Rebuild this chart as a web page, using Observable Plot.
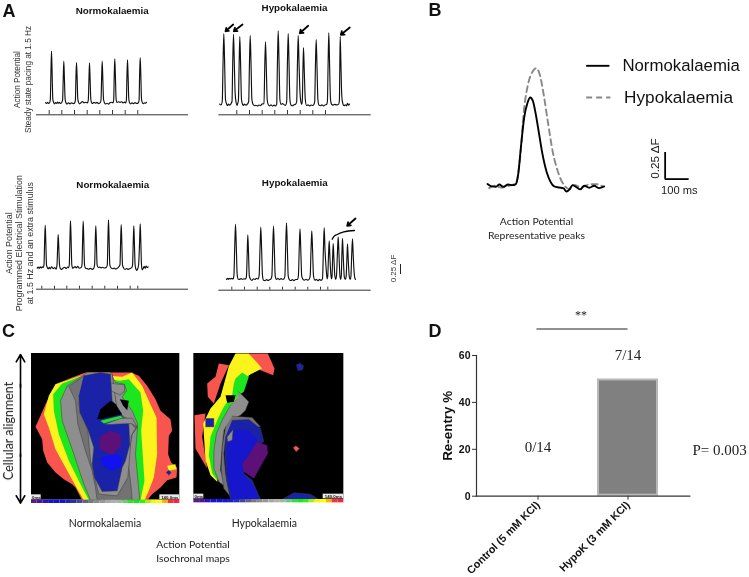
<!DOCTYPE html>
<html>
<head>
<meta charset="utf-8">
<script src="https://cdn.jsdelivr.net/npm/d3@7"></script>
<script src="https://cdn.jsdelivr.net/npm/@observablehq/plot@0.6"></script>
<style>
html,body{margin:0;padding:0;background:#fff}
#page{position:relative;width:749px;height:577px;overflow:hidden;font-family:"Liberation Sans",Arial,sans-serif}
#page svg{position:absolute;overflow:visible;background:transparent;filter:blur(.4px)}
.lab{position:absolute;white-space:nowrap;transform:translate(-50%,-50%);text-align:center;filter:blur(.3px)}
.letter{font-weight:bold;font-size:18px;color:#111}
.cal{font-family:Lato,sans-serif;font-size:10.4px;color:#222;line-height:14px}
</style>
</head>
<body>
<div id="page"></div>
<script>
// ---------- Panel A: optical action-potential traces (time, signal above baseline; arbitrary units)
const a1Trace = [[0,.3],[1,-.5],[2,.6],[3,-.3],[4,.2],[4.8,3],[5.4,29],[6,51.8],[6.6,31],[7.3,4],[8,.8],[9,-.8],[10,.4],[11,-.4],[12,1],[13,-.2],[14,.6],[15,-.5],[16,.3],[17.1,3],[17.7,23],[18.3,41.8],[18.9,25],[19.6,4],[20.3,.5],[21.5,-1],[23,.3],[24.5,-.8],[26,.2],[28,-.6],[29.3,.4],[29.9,3],[30.4,24],[31,40.5],[31.6,26],[32.3,4],[33,.8],[34,-.8],[35.5,.2],[37,1.5],[38.5,.2],[40,.8],[42,0],[42.8,3],[43.4,22],[44,40.2],[44.6,24],[45.3,4],[46,.6],[47,-.5],[48.5,.8],[50,-.2],[51.5,.7],[53,-.6],[54.8,.3],[55.5,3],[56.1,24],[56.7,41.8],[57.3,25],[58,4],[59,.2],[60,-1],[61.5,-.2],[63,-1.2],[64.5,.3],[66,.8],[67.5,.1],[68.2,3],[68.7,26],[69.3,44.2],[69.9,27],[70.6,4],[71.5,.5],[73,1.2],[74.5,.6],[76,1.3],[77.5,.2],[79,.9],[80.2,.1],[80.9,3],[81.4,25],[82,43.2],[82.6,27],[83.3,4],[84,.4],[85,-.9],[86.5,.2],[88,-.7],[89.5,.5],[91,-.5],[92.9,.3],[93.6,3],[94.1,27],[94.7,45.5],[95.3,29],[96,4],[96.8,.5],[98,-.7],[99,.3],[100,-.2],[101,.7]];
const a1Stim = [3.7,16.3,29,41.7,54.3,67,79.7,92.3];

const a2Trace = [[0,.5],[1,-.3],[2,.2],[2.8,4],[3.5,39],[4.3,70.7],[5.1,43],[6,5],[7,.8],[8,-1.2],[9,.4],[10,-.6],[11,.2],[12.5,3],[13.2,40],[14,70.3],[14.8,42],[15.6,12],[16.6,2],[17.6,-1],[18.2,1],[18.9,4],[19.6,38],[20.3,68],[21.1,40],[22,5],[23,.3],[24,-1],[25,.5],[26.5,-.7],[28,.6],[29.2,3],[29.9,38],[30.7,69],[31.5,42],[32.4,5],[33.5,.2],[35,-1.2],[36.5,-.7],[38,-1.5],[39.5,-.5],[41,-1.2],[42.5,.5],[44.5,.8],[45.2,35],[46,62.7],[46.8,37],[47.7,5],[48.5,.4],[50,-1.4],[51.5,-.4],[53,-1.6],[54.5,-.6],[56,-1.5],[57.2,.4],[57.9,40],[58.7,73.7],[59.5,44],[60.4,5],[61.5,.2],[63,.9],[64.5,-.2],[66,-.9],[67.2,3],[67.9,40],[68.7,71],[69.5,42],[70.4,5],[71.5,-.5],[73,-1.2],[74.5,-.3],[76,.2],[77.2,3],[77.9,38],[78.7,69],[79.5,42],[80.4,14],[81.3,3],[82.2,.2],[82.8,4],[83.4,33],[84,57],[84.8,33],[85.8,5],[87,-1],[88.5,-.4],[90,-1.4],[91.5,-.5],[93,-1],[94.5,.3],[95.2,3],[95.9,37],[96.7,65],[97.5,38],[98.4,5],[99.5,-.6],[101,-1.2],[102.5,-.4],[104,-1.3],[105.5,-.5],[107.2,.2],[107.9,3],[108.6,40],[109.3,71.7],[110,44],[111,5],[112,.4],[113.5,-.6],[115,.1],[117,-.4],[119.2,.4],[119.9,4],[120.3,38],[120.7,68],[121.4,42],[122.3,8],[123.3,1],[124.5,-1.2],[126,-.4],[127,-1.3],[128,1.2],[129,-.6],[130,.4]];
const a2Stim = [17.3,30,42.7,55.3,68,80.7,93.3,106];
const a2Arrows = [[6,73.3,13.7,80],[14.3,73.3,23,80],[80.3,71.3,88.7,78.7],[121.3,69.7,130.3,77]];

const a3Trace = [[0,-.3],[1,.8],[2,-.6],[3,.9],[4,-.2],[5,1],[6,.2],[6.8,3],[7.4,25],[8,42.6],[8.6,26],[9.3,3],[10,.5],[11,-1.2],[12,.6],[13,-1],[14.5,.9],[16,-.8],[17.5,.3],[19,-1.4],[19.8,3],[20.4,19],[21,33.3],[21.6,20],[22.3,3],[23,-.5],[24.5,-1.5],[26,-.2],[27.5,.6],[29,-.8],[30.5,.8],[31.5,.1],[32.1,3],[32.7,27],[33.3,47],[33.9,29],[34.6,3],[35.5,-.5],[36.5,.3],[38,1.2],[39,-.2],[40.5,1.4],[42,-.4],[44,.2],[44.8,3],[45.4,27],[46,46.6],[46.6,28],[47.3,3],[48.5,-.6],[50,-.8],[51.5,-1.4],[53,-.5],[55,-1.5],[56.5,-.5],[57.4,3],[58,24],[58.6,42],[59.2,26],[59.9,3],[61,.3],[62.5,.7],[64,0],[65.5,.6],[67,-.2],[69,.3],[70.1,3],[70.7,28],[71.3,48],[71.9,29],[72.6,3],[74,-.3],[75.5,-.9],[77,-.3],[78.5,-1.2],[80,-.4],[81,.2],[82.8,3],[83.4,25],[84,43.3],[84.6,26],[85.3,3],[86.5,-.4],[88,-1.5],[89.5,-.7],[91,-1.6],[93,-.6],[94.5,.1],[95.4,3],[96,24],[96.6,42],[97.2,25],[97.9,3],[98.6,-1],[99.6,-2.5],[100.5,-1],[101.4,3],[102.4,26],[103,44],[103.6,27],[104.3,3],[105,-2],[106,-.6],[107,1.5],[108,-.5],[109,1.8],[110,.3],[111,1]];
const a3Stim = [4.6,17.3,29.6,42.3,55,67.6,80.3,93,100.6];

const a4Trace = [[0,.3],[1,1.5],[2,.4],[3,1.6],[4,.8],[5,1.4],[6.6,1],[7.4,4],[8.2,32],[9,55.6],[9.8,33],[10.7,5],[11.8,.5],[13,.4],[14.5,1.2],[16,.6],[18,1],[19.3,.8],[20,4],[20.7,26],[21.3,45],[22,27],[22.8,4],[24,.6],[25.5,-.5],[27,1],[28.5,.3],[30,1.6],[31.5,.8],[32.6,4],[33.5,31],[34.3,52.6],[35.1,31],[36,4],[37,-.4],[38.5,-.8],[40,.2],[41.5,-.6],[43,.1],[44.5,1],[45.4,4],[46.2,31],[47,53.6],[47.8,32],[48.7,4],[50,.5],[51.5,1.4],[53,.2],[54.5,1.2],[56,.6],[57.6,.9],[58.4,4],[59.2,34],[60,57],[60.8,34],[61.7,4],[63,0],[64.5,-.7],[66,.2],[67.5,-.9],[69,.3],[71.1,.4],[71.9,4],[72.7,30],[73.5,51],[74.3,30],[75.2,4],[76.5,.5],[78,-.4],[79.5,.6],[81,-.3],[82.6,.5],[83.7,4],[84.5,29],[85.3,49],[86.1,29],[87,4],[88.5,-.4],[90,.5],[91.5,-.9],[93,.4],[94.5,-.6],[96,1],[96.9,30],[97.7,52.3],[98.5,30],[99.6,12],[100.6,1],[101.2,3],[102,24],[102.7,39],[103.4,23],[104.3,6],[104.9,1],[105.5,3],[106.1,21],[106.7,36.3],[107.4,22],[108.3,4],[109.2,.5],[110,4],[110.9,26],[111.7,43],[112.5,25],[113.5,3],[114.2,.5],[114.8,4],[115.4,25],[116,41.6],[116.7,25],[117.8,3],[118.8,.4],[119.6,3],[120.4,21],[121,36],[121.7,21],[122.8,3],[123.8,.3],[124.4,3],[125.2,25],[126,41],[126.7,25],[127.6,8],[128.4,1.5],[129,.5]];
const a4Stim = [5.3,18,30.7,43.3,56,68.7,81.3,94,101.3];
const a4Bracket = [[105.7,40.6],[107.5,43.4],[110.7,45.3],[117.3,48],[128,49.3]];
const a4Arrow = [[120.7,54,129,61.3]];

const panelATitles = ["Normokalaemia","Hypokalaemia"];

// ---------- Panel B: representative peaks (ms, ΔF)
const bNormo = [[0,.016],[17,-.006],[35,-.009],[49,.012],[67,-.009],[86,.012],[104,.006],[118,.016],[128,.109],[139,.359],[153,.641],[167,.781],[178,.828],[189,.797],[201,.672],[215,.484],[229,.297],[247,.125],[264,.031],[278,-.006],[299,-.016],[317,-.025],[329,-.053],[343,-.031],[354,.006],[372,-.016],[386,-.034],[403,0],[424,-.019],[444,0],[465,-.022],[486,-.006]];
const bHypo = [[7,-.022],[28,0],[56,-.016],[83,-.003],[118,.022],[136,.266],[153,.734],[169,.953],[188,1.072],[204,1.103],[219,1.031],[236,.828],[253,.578],[271,.328],[292,.141],[319,.006],[340,-.031],[361,.009],[389,-.016],[417,.009],[451,.016],[479,-.003]];

// ---------- Panel C: isochronal map regions (map units)
const c1Red = [[392,155],[415,165],[440,195],[465,235],[480,270],[510,295],[515,330],[505,345],[503,400],[512,425],[530,440],[528,470],[500,478],[480,500],[455,520],[440,538],[245,538],[225,500],[215,490],[190,475],[165,455],[140,425],[128,390],[125,355],[105,318],[120,285],[135,250],[165,190],[215,170],[255,155]];
const c1Yellow = [[365,168],[395,155],[425,195],[445,240],[468,290],[470,400],[460,470],[445,510],[432,538],[250,538],[225,495],[195,440],[165,385],[145,320],[130,280],[145,225],[165,190],[218,172],[255,160]];
const c1Green = [[358,180],[385,175],[420,215],[428,270],[422,330],[428,420],[432,480],[420,538],[265,538],[240,490],[205,420],[175,340],[160,270],[158,220],[185,188],[245,165]];
const c1GrayA = [[330,155],[345,185],[372,190],[378,210],[365,228],[395,270],[412,310],[405,400],[418,538],[270,538],[250,490],[220,400],[185,300],[180,240],[200,195],[245,165],[260,155]];
const c1GrayB = [[250,165],[205,197],[225,240],[232,310],[255,390],[275,450],[285,500],[290,538],[395,538],[392,500],[385,440],[385,400],[395,340],[410,320],[395,300],[350,280],[335,160]];
const c1GrayC = [[250,165],[235,250],[262,330],[270,420],[295,520],[350,525],[382,470],[388,400],[392,345],[405,322],[385,300],[350,270],[335,160]];
const c1Blue = [[250,165],[300,155],[330,160],[335,240],[345,250],[365,285],[385,310],[388,370],[375,420],[365,440],[350,510],[305,512],[282,470],[275,430],[280,380],[262,325],[238,275],[235,225]];
const c1BrightBlue = [[300,410],[335,400],[365,405],[360,440],[330,450],[305,430]];
const c1Purple = [[300,345],[330,330],[360,340],[362,375],[335,403],[300,385],[295,365]];
const c1HoleA = [[290,295],[300,265],[330,240],[345,250],[365,280],[300,295]];
const c1HoleB = [[358,235],[385,240],[380,268],[368,255]];
const c1Strip = [[300,300],[360,285],[368,290],[310,308]];
const c1GrayBridge = [[312,310],[362,292],[395,292],[410,318],[392,308],[340,310]];
const c1GrayPatch = [[335,188],[372,192],[372,212],[358,222],[335,212]];
const c1YellowBit = [[500,435],[525,430],[527,445],[505,450]];
const c1BlueBit = [[497,455],[505,448],[512,455],[505,463]];

const c2RedTop = [[205,40],[262,40],[282,85],[278,105],[240,90],[220,60]];
const c2RedUpper = [[115,70],[145,75],[120,130],[100,190],[82,170],[80,130],[105,110]];
const c2RedLower = [[42,225],[75,220],[65,290],[80,385],[45,325]];
const c2Yellow = [[165,40],[205,40],[245,85],[205,105],[190,140],[160,200],[130,270],[120,350],[110,425],[90,405],[75,360],[68,250],[90,205],[120,170],[135,115],[145,78]];
const c2Green = [[165,115],[185,97],[205,110],[190,155],[175,165],[150,195],[125,245],[115,300],[110,360],[110,420],[95,400],[85,345],[90,290],[110,240],[130,200],[155,165],[160,130]];
const c2GrayA = [[175,155],[205,185],[195,210],[180,225],[150,240],[130,270],[125,320],[120,390],[135,440],[115,425],[100,385],[100,330],[108,280],[125,240],[150,195],[170,175]];
const c2GrayB = [[155,228],[215,232],[240,260],[150,272],[135,300],[130,340],[135,400],[150,470],[130,445],[122,390],[125,320],[135,260]];
const c2Blue = [[155,240],[205,238],[240,265],[250,305],[235,310],[205,345],[190,370],[190,400],[215,420],[240,478],[150,478],[138,420],[133,340],[135,290]];
const c2BlueInner = [[160,270],[200,268],[232,300],[205,345],[185,375],[190,405],[220,440],[235,478],[155,478],[140,400],[140,320]];
const c2Purple = [[230,305],[260,315],[262,340],[220,415],[190,395],[185,370],[205,345]];
const c2BlueBottom = [[305,478],[340,458],[390,462],[415,478]];
const c2BlueDot = [[347,75],[358,69],[369,77],[366,89],[352,91]];
const c2RedDot = [[338,323],[346,317],[357,325],[347,335]];
const c2BlueSquare = [[75,235],[100,235],[100,260],[75,260]];
const c2Hole = [[135,165],[165,165],[160,185],[140,188]];
const c2GrayNotch = [[140,290],[158,268],[155,300],[142,305]];

const colourBar = ["#5a1a8c","#4a16a0","#2f10c0","#1510d8","#1010e0","#1016d8","#1a20c8","#2430b0","#404898","#60608a","#787880","#8a8a8a","#989898","#a8a8a8","#b0b0b0","#a0b8a0","#70c870","#30e030","#10e810","#30f010","#a0f010","#f0f808","#ffff00","#ffb000","#ff3030","#ff2040"];

// ---------- Panel D: re-entry
const dGroups = ["Control (5 mM KCl)","HypoK (3 mM KCl)"];
const dValues = [0,50];
const dCounts = ["0/14","7/14"];
const dYTicks = [0,20,40,60];

// ---------- helpers
const page = document.getElementById("page");
const SANS = '"Liberation Sans",Arial,sans-serif';
const put = (el,left,top)=>{el.style.left=left+"px";el.style.top=top+"px";page.appendChild(el);};
const label = (text,x,y,cls,extra)=>{const d=document.createElement("div");d.className="lab "+cls;d.innerHTML=text;d.style.left=x+"px";d.style.top=y+"px";if(extra)d.style.cssText+=extra;page.appendChild(d);};
const ink = "#111";
const traceMarks = (trace,stim,axisY,tickTop,axis)=>[
  Plot.line(trace,{curve:"monotone-x",stroke:ink,strokeWidth:1.15}),
  Plot.ruleY([axisY],{x1:axis[0],x2:axis[1],stroke:"#333",strokeWidth:1}),
  Plot.ruleX(stim,{y1:axisY,y2:tickTop,stroke:"#222",strokeWidth:.9})
];
const tracePlot = (left,top,w,h,xd,yd,marks)=>put(Plot.plot({width:w,height:h,margin:0,x:{domain:xd,axis:null},y:{domain:yd,axis:null},style:{fontFamily:SANS},marks}),left,top);
const title = (t,x,y)=>Plot.text([t],{x:()=>x,y:()=>y,fontWeight:"bold",fontSize:9.8,fill:"#111"});
const side = (t,x,y,fs=8.2)=>Plot.text([t],{x:()=>x,y:()=>y,rotate:-90,fontSize:fs,fill:"#333"});
const arrows = (rows)=>Plot.arrow(rows,{x1:d=>d[2],y1:d=>d[3],x2:d=>d[0],y2:d=>d[1],stroke:"#000",strokeWidth:1.8,headLength:7,headAngle:70});

// A top-left
tracePlot(0,0,188,120,[-45,143],[-17.5,102.5],[
  ...traceMarks(a1Trace,a1Stim,-11.8,-7.5,[-9,143]),
  title(panelATitles[0],66.7,92.5),
  side("Action Potential",-28,23.5),
  side("Steady state pacing at 1.5 Hz",-17,23.5)
]);
// A top-right
tracePlot(200,0,175,120,[-19,156],[-16,104],[
  ...traceMarks(a2Trace,a2Stim,-10.3,-6,[-.7,151.7]),
  arrows(a2Arrows),
  title(panelATitles[1],75,96.5)
]);
// A bottom-left
tracePlot(0,165,188,140,[-36.7,151.3],[-37.7,102.3],[
  ...traceMarks(a3Trace,a3Stim,-21.4,-18.4,[-.7,151.3]),
  title(panelATitles[0],75.6,83),
  side("Action Potential",-28.4,24.6,8.9),
  side("Programmed Electrical Stimulation",-17.7,24.6,8.9),
  side("at 1.5 Hz and an extra stimulus",-7.4,24.6,8.9)
]);
// A bottom-right
tracePlot(200,165,215,140,[-26,189],[-25.7,114.3],[
  ...traceMarks(a4Trace,a4Stim,-10.4,-7.4,[-7.7,144.7]),
  Plot.line(a4Bracket,{curve:"monotone-x",stroke:"#000",strokeWidth:1.3}),
  arrows(a4Arrow),
  title(panelATitles[1],68.3,96.6),
  Plot.ruleX([174],{y1:5.3,y2:15.3,stroke:"#222",strokeWidth:1}),
  side("0.25 ΔF",167,11.3,8)
]);

// B
tracePlot(486.67,56.67,261.67,183.33,[0,1090],[-.516,1.203],[
  Plot.line(bHypo,{curve:"monotone-x",stroke:"#888",strokeWidth:1.9,strokeDasharray:"6,4"}),
  Plot.line(bNormo,{curve:"monotone-x",stroke:"#000",strokeWidth:1.9}),
  Plot.ruleY([1.125],{x1:413,x2:510,stroke:"#000",strokeWidth:1.9}),
  Plot.ruleY([.828],{x1:413,x2:514,stroke:"#888",strokeWidth:1.9,strokeDasharray:"6,4"}),
  Plot.text(["Normokalaemia"],{x:()=>562,y:()=>1.125,textAnchor:"start",fontSize:16.8,fill:"#111"}),
  Plot.text(["Hypokalaemia"],{x:()=>569,y:()=>.828,textAnchor:"start",fontSize:17.2,fill:"#111"}),
  Plot.ruleX([740],{y1:.0625,y2:.3125,stroke:"#000",strokeWidth:1.8}),
  Plot.ruleY([.0625],{x1:740,x2:840,stroke:"#000",strokeWidth:1.8}),
  Plot.text(["100 ms"],{x:()=>799,y:()=>-.04,fontSize:11.2,fill:"#222"}),
  Plot.text(["0.25 ΔF"],{x:()=>699,y:()=>.256,rotate:-90,fontSize:11.8,fill:"#222"})
]);
label("Action Potential<br>Representative peaks",536.5,228,"cal");

// C
const COL = {red:"#f8554f",yellow:"#fbf41a",green:"#1ee61e",grayA:"#8e8e8e",grayB:"#727272",grayC:"#8e8e8e",blue:"#1a22a8",bright:"#1212ee",inner:"#1616cc",purple:"#5c1078",black:"#000"};
const outlined = new Set(["grayA","grayB","grayC","blue"]);
const regions = (list)=>list.map(([pts,c])=>Plot.line(pts,{x:d=>d[0],y:d=>d[1],fill:COL[c],stroke:outlined.has(c)?"#3a3a3a":"none",strokeWidth:.5,curve:"linear"}));
const colourCells = (x0,x1,y0,y1)=>{const n=colourBar.length;return Plot.rect(colourBar,{x1:(d,i)=>x0+(x1-x0)*i/n,x2:(d,i)=>x0+(x1-x0)*(i+1)/n,y1:()=>y0,y2:()=>y1,fill:d=>d});};
const tag = (t,x,y)=>[Plot.rect([t],{x1:()=>x[0],x2:()=>x[1],y1:()=>y[0],y2:()=>y[1],fill:"#e8e8e8"}),Plot.text([t],{x:()=>(x[0]+x[1])/2,y:()=>(y[0]+y[1])/2,fontSize:4.4,fontWeight:"bold",fill:"#111"})];

put(Plot.plot({width:179.33,height:150,margin:0,x:{domain:[0,538],axis:null},y:{domain:[548,98],axis:null},style:{fontFamily:SANS},color:{type:"identity"},marks:[
  Plot.rect([0],{x1:()=>93,x2:()=>538,y1:()=>98,y2:()=>538,fill:"#000"}),
  ...regions([[c1Red,"red"],[c1Yellow,"yellow"],[c1Green,"green"],[c1GrayA,"grayA"],[c1GrayB,"grayB"],[c1GrayC,"grayC"],[c1Blue,"blue"],[c1BrightBlue,"bright"],[c1Purple,"purple"],[c1HoleA,"black"],[c1HoleB,"black"],[c1GrayBridge,"grayA"],[c1Strip,"green"],[c1GrayPatch,"grayA"],[c1YellowBit,"yellow"],[c1BlueBit,"blue"]]),
  colourCells(93,538,538,548),
  ...tag("0ms",[93,122],[522,536]),
  ...tag("140.0ms",[478,538],[522,536]),
  Plot.arrow([0],{x1:()=>60,y1:()=>200,x2:()=>60,y2:()=>101,stroke:"#000",strokeWidth:1.6,headLength:8,headAngle:60}),
  Plot.arrow([0],{x1:()=>60,y1:()=>400,x2:()=>60,y2:()=>547,stroke:"#000",strokeWidth:1.6,headLength:8,headAngle:60}),
  Plot.ruleX([60],{y1:190,y2:410,stroke:"#000",strokeWidth:1.6})
]}),0,352.67);
label("Cellular alignment",9,431,"cal","transform:translate(-50%,-50%) rotate(-90deg);font-size:12.5px");

put(Plot.plot({width:163.33,height:149.33,margin:0,x:{domain:[0,490],axis:null},y:{domain:[488,40],axis:null},style:{fontFamily:SANS},color:{type:"identity"},marks:[
  Plot.rect([0],{x1:()=>40,x2:()=>490,y1:()=>40,y2:()=>478,fill:"#000"}),
  ...regions([[c2RedTop,"red"],[c2RedUpper,"red"],[c2RedLower,"red"],[c2Yellow,"yellow"],[c2Green,"green"],[c2GrayA,"grayA"],[c2GrayB,"grayB"],[c2Blue,"blue"],[c2BlueInner,"inner"],[c2Purple,"purple"],[c2BlueBottom,"blue"],[c2BlueDot,"blue"],[c2RedDot,"red"],[c2BlueSquare,"blue"],[c2Hole,"black"],[c2GrayNotch,"grayA"]]),
  colourCells(40,490,478,488),
  ...tag("0ms",[40,70],[462,476]),
  ...tag("140.0ms",[428,490],[462,476])
]}),180,353.33);
label("Normokalaemia",105,523,"cal","font-size:10.5px");
label("Hypokalaemia",264.3,523,"cal","font-size:10.5px");
label("Action Potential<br>Isochronal maps",193,551,"cal");

// D
put(Plot.plot({width:329,height:267,marginLeft:56,marginRight:59.7,marginTop:45,marginBottom:81.3,
  x:{domain:dGroups,paddingInner:.327,paddingOuter:.348,label:null},
  y:{domain:[0,60],label:null},
  style:{fontFamily:SANS},
  marks:[
    Plot.barY(dGroups,{x:d=>d,y:(d,i)=>dValues[i],fill:"#808080",stroke:"#b8b8b8",strokeWidth:2,inset:1}),
    Plot.frame({anchor:"left",stroke:"#333",strokeWidth:1.2}),
    Plot.frame({anchor:"bottom",stroke:"#333",strokeWidth:1.2}),
    Plot.axisY({ticks:dYTicks,tickSize:4,fontWeight:"bold",fontSize:10.5,label:null,stroke:"#333",tickPadding:2,fill:"#111"}),
    Plot.axisX({tickRotate:-45,tickSize:4,fontWeight:"bold",fontSize:10.8,label:null,stroke:"#333",fill:"#111",tickPadding:3}),
    Plot.text(["Re-entry %"],{frameAnchor:"left",textAnchor:"middle",dx:-29,rotate:-90,fontWeight:"bold",fontSize:13.4,fill:"#111"}),
    Plot.text(dCounts,{x:(d,i)=>dGroups[i],y:(d,i)=>[21,60][i],fontFamily:'"Liberation Serif",serif',fontSize:15,fill:"#222"})
  ]}),420,310);
label("P= 0.003",719.7,450,"","font-family:'Liberation Serif',serif;font-size:15px;color:#222");
label("**",581,314.5,"","font-family:'Liberation Serif',serif;font-size:12px;color:#222");
label("",581.5,329,"","width:91px;height:1px;background:#222");

// panel letters
label("A",9,11,"letter");
label("B",435,9.5,"letter");
label("C",8.5,331,"letter");
label("D",435,331,"letter");
</script>
</body>
</html>
